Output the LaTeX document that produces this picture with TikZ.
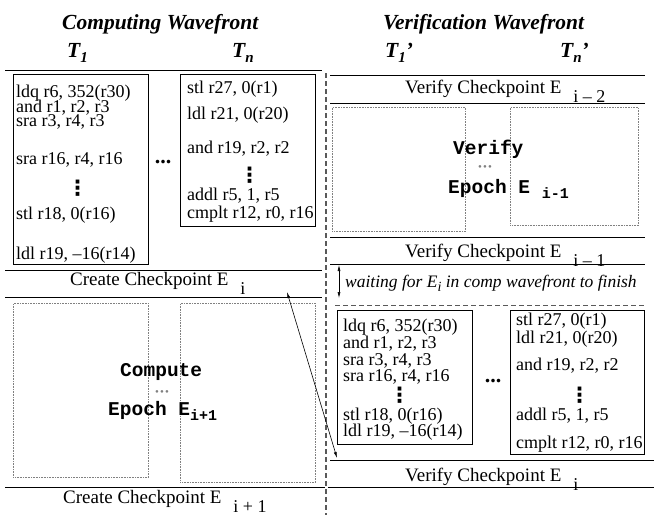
\documentclass[tikz,border=0pt]{standalone}
\usepackage{fontspec}
\setmainfont{Liberation Serif}
\setmonofont{Liberation Mono}
\newfontfamily\symfont{DejaVu Sans}
\usetikzlibrary{arrows.meta,positioning}

\newcommand{\codefont}{\fontsize{18}{15}\selectfont\lineskiplimit=-50pt}
\newcommand{\lblfont}{\fontsize{19}{20}\selectfont}
\newcommand{\ttlfont}{\fontsize{21.5}{24}\selectfont\bfseries\itshape}
\newcommand{\epfont}{\fontsize{19.5}{22}\selectfont\ttfamily\bfseries}
\newcommand{\dn}[1]{\hspace{12pt}\raisebox{-9pt}{\fontsize{18}{18}\selectfont #1}}
\newcommand{\dnm}[1]{\raisebox{-5pt}{\fontsize{15}{15}\selectfont #1}}
\newcommand{\tsub}[1]{\raisebox{-5pt}{\fontsize{15}{15}\selectfont #1}}
\newcommand{\vdd}{\smash{{\symfont\bfseries\fontsize{21}{21}\selectfont ⋮}}}
\newcommand{\gdots}{\textcolor{gray}{\fontsize{11}{11}\selectfont\textbullet\kern1.2pt\textbullet\kern1.2pt\textbullet}}

\begin{document}
\begin{tikzpicture}[x=1pt, y=-1pt,
  cbox/.style={draw, line width=0.9pt, anchor=north west, inner sep=0pt},
  dbox/.style={draw=gray, densely dotted, line width=0.6pt, anchor=north west, inner sep=0pt},
  code/.style={anchor=north west, inner sep=0pt, align=left, font=\codefont},
  lbl/.style={anchor=base west, inner sep=0pt, font=\lblfont},
  ttl/.style={anchor=base west, inner sep=0pt, font=\ttlfont},
  ep/.style={anchor=base west, inner sep=0pt, font=\epfont},
  bdots/.style={anchor=base, inner sep=0pt, font=\fontsize{22}{22}\selectfont\bfseries},
  bar/.style={line width=0.9pt},
  dashbar/.style={gray!70!black, dash pattern=on 5pt off 3pt},
  tip/.style={{Latex[length=6pt,width=3pt]}-{Latex[length=6pt,width=3pt]}, line width=0.6pt}
]
  \useasboundingbox (0,0) rectangle (654,515);

  % headings
  \node[ttl] (cwf) at (62,29.5) {Computing Wavefront};
  \node[ttl] (vwf) at (383,29.5) {Verification Wavefront};
  \node[ttl] (t1) at (67,57) {T\tsub{1}};
  \node[ttl] (tn) at (232,57) {T\tsub{n}};
  \node[ttl] (t1p) at (385,57) {T\tsub{1}'};
  \node[ttl] (tnp) at (560,57) {T\tsub{n}'};

  % computing wavefront
  \draw[bar] (5,70) -- (322,70);
  \node[cbox, minimum width=135pt, minimum height=190pt] (cb1) at (13,74) {};
  \node[cbox, minimum width=135pt, minimum height=152pt] (cbn) at (180,74) {};
  \node[code] (cc1) at (16,84.7) {ldq r6, 352(r30)\\[0.5pt]
    and r1, r2, r3\\[-1pt]
    sra r3, r4, r3\\[22.5pt]
    sra r16, r4, r16\\[16.5pt]
    \hspace*{51pt}\vdd\\[9pt]
    stl r18, 0(r16)\\[24.5pt]
    ldl r19, –16(r14)};
  \node[code] (ccn) at (187,81.2) {stl r27, 0(r1)\\[11pt]
    ldl r21, 0(r20)\\[19pt]
    and r19, r2, r2\\[13.5pt]
    \hspace*{52pt}\vdd\\[3pt]
    addl r5, 1, r5\\[3.5pt]
    cmplt r12, r0, r16};
  \node[bdots] (cdots) at (163,163) {...};
  \draw[bar] (5,270) -- (322,270);
  \node[lbl] (ce1) at (70,285) {Create Checkpoint E\dn{i}};
  \draw[bar] (5,297) -- (322,297);
  \node[dbox, minimum width=135pt, minimum height=174pt] (cd1) at (13,303) {};
  \node[dbox, minimum width=135pt, minimum height=179pt] (cdn) at (180,303) {};
  \node[ep] (cmp) at (120,376) {Compute};
  \node[anchor=base, inner sep=0pt] (cgd) at (162,395) {\gdots};
  \node[ep] (cep) at (108,415) {Epoch E\dnm{i+1}};
  \draw[bar] (5,487) -- (325,487);
  \node[lbl] (ce2) at (63,503) {Create Checkpoint E\dn{i + 1}};

  % divider
  \draw[dashbar, line width=1.3pt] (326,73) -- (326,515);

  % verification wavefront
  \draw[bar] (330,75) -- (645,75);
  \node[lbl] (vc2) at (405,93) {Verify Checkpoint E\dn{i – 2}};
  \draw[bar] (330,103) -- (645,103);
  \node[dbox, minimum width=133pt, minimum height=124pt] (vd1) at (332,107) {};
  \node[dbox, minimum width=128pt, minimum height=118pt] (vdn) at (510,107) {};
  \node[ep] (vfy) at (453,154) {Verify};
  \node[anchor=base, inner sep=0pt] (vgd) at (485,170) {\gdots};
  \node[ep] (vep) at (448,193) {Epoch E \dnm{i-1}};
  \draw[bar] (330,237) -- (645,237);
  \node[lbl] (vc1) at (405,257) {Verify Checkpoint E\dn{i – 1}};
  \draw[bar] (330,264) -- (645,264);
  \coordinate (wt) at (339,265);
  \coordinate (wb) at (339,298);
  \draw[tip] (wt) -- (wb);
  \node[anchor=base west, inner sep=0pt, font=\fontsize{17.5}{20}\selectfont\itshape] (wait) at (345,287)
    {waiting for E\raisebox{-4pt}{\fontsize{14}{14}\selectfont i} in comp wavefront to finish};
  \draw[dashbar, line width=0.9pt] (335,305) -- (645,305);
  \node[cbox, minimum width=135pt, minimum height=134pt] (vb1) at (337,310) {};
  \node[cbox, minimum width=134pt, minimum height=144pt] (vbn) at (510,310) {};
  \node[code] (vc1b) at (343,319.2) {ldq r6, 352(r30)\\[2pt]
    and r1, r2, r3\\[1.5pt]
    sra r3, r4, r3\\[1.5pt]
    sra r16, r4, r16\\[6pt]
    \hspace*{46pt}\vdd\\[2.5pt]
    stl r18, 0(r16)\\[1pt]
    ldl r19, –16(r14)};
  \node[code] (vcnb) at (516,312.7) {stl r27, 0(r1)\\[3.5pt]
    ldl r21, 0(r20)\\[11.5pt]
    and r19, r2, r2\\[17pt]
    \hspace*{53pt}\vdd\\[3pt]
    addl r5, 1, r5\\[13.5pt]
    cmplt r12, r0, r16};
  \node[bdots] (vdots) at (493,382) {...};
  \draw[bar] (330,460) -- (654,460);
  \node[lbl] (vc0) at (405,481.5) {Verify Checkpoint E\dn{i}};
  \draw[bar] (328,487) -- (654,487);

  % checkpoint E_i handed over
  \coordinate (cei) at (287,292);
  \coordinate (vei) at (337,458);
  \draw[tip] (cei) -- (vei);
\end{tikzpicture}
\end{document}
